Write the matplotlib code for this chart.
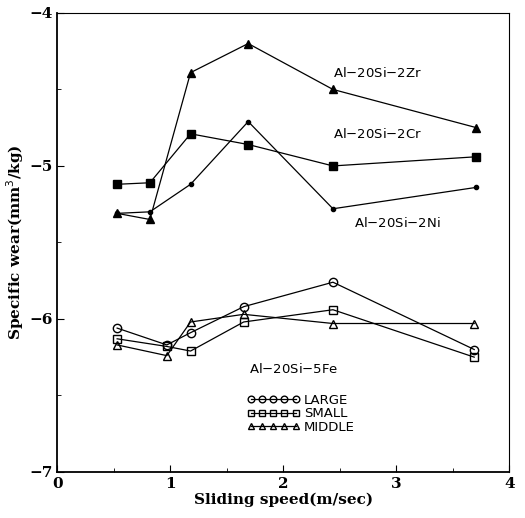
import numpy as np
import matplotlib.pyplot as plt
from matplotlib.ticker import MultipleLocator

# sliding speed (m/sec)
speed = [0.53, 0.82, 1.18, 1.69, 2.44, 3.71]
speed_fe = [0.53, 0.97, 1.18, 1.65, 2.44, 3.69]

# log specific wear
zr = [-5.31, -5.35, -4.39, -4.20, -4.50, -4.75]
cr = [-5.12, -5.11, -4.79, -4.86, -5.00, -4.94]
ni = [-5.31, -5.30, -5.12, -4.71, -5.28, -5.14]
fe_large = [-6.06, -6.17, -6.09, -5.92, -5.76, -6.20]
fe_small = [-6.13, -6.18, -6.21, -6.02, -5.94, -6.25]
fe_middle = [-6.17, -6.24, -6.02, -5.97, -6.03, -6.03]

fig = plt.figure(figsize=(5.25, 5.18), dpi=100)
ax = fig.add_axes([0.109, 0.089, 0.861, 0.886])

lw = 0.9
ax.plot(speed, zr, color='k', lw=lw, marker='^', ms=6, mfc='k')
ax.plot(speed, cr, color='k', lw=lw, marker='s', ms=5.5, mfc='k')
ax.plot(speed, ni, color='k', lw=lw, marker='o', ms=3, mfc='k')
ax.plot(speed_fe, fe_large, color='k', lw=lw, marker='o', ms=6, mfc='none',
        label='LARGE')
ax.plot(speed_fe, fe_small, color='k', lw=lw, marker='s', ms=5.5, mfc='none',
        label='SMALL')
ax.plot(speed_fe, fe_middle, color='k', lw=lw, marker='^', ms=5.5, mfc='none',
        label='MIDDLE')

ax.text(2.44, -4.39, 'Al$-$20Si$-$2Zr', fontsize=9.5, ha='left', va='center')
ax.text(2.44, -4.79, 'Al$-$20Si$-$2Cr', fontsize=9.5, ha='left', va='center')
ax.text(2.63, -5.37, 'Al$-$20Si$-$2Ni', fontsize=9.5, ha='left', va='center')
ax.text(1.7, -6.33, 'Al$-$20Si$-$5Fe', fontsize=9.5, ha='left', va='center')

leg = ax.legend(loc='upper left', bbox_to_anchor=(0.405, 0.185), frameon=False,
                numpoints=5, handlelength=4.0, handletextpad=0.3,
                labelspacing=0.05, fontsize=9.5, markerscale=0.8,
                borderpad=0)

ax.set_xlim(0, 4)
ax.set_ylim(-7, -4)
ax.xaxis.set_major_locator(MultipleLocator(1))
ax.xaxis.set_minor_locator(MultipleLocator(0.5))
ax.yaxis.set_major_locator(MultipleLocator(1))
ax.yaxis.set_minor_locator(MultipleLocator(0.5))
ax.tick_params(which='both', direction='in', top=False, right=False,
               labelsize=11)
ax.tick_params(which='major', length=5)
ax.tick_params(which='minor', length=3)
for lab in ax.get_xticklabels() + ax.get_yticklabels():
    lab.set_fontweight('bold')
    lab.set_family('DejaVu Serif')

ax.set_xlabel('Sliding speed(m/sec)', family='DejaVu Serif', fontweight='bold',
              fontsize=11, labelpad=1)
ax.set_ylabel('Specific wear(mm$^3$/kg)', family='DejaVu Serif',
              fontweight='bold', fontsize=11, labelpad=2)

for s in ['top', 'right']:
    ax.spines[s].set_linewidth(0.8)
for s in ['left', 'bottom']:
    ax.spines[s].set_linewidth(1.3)

fig.savefig('out.png', dpi=100)
